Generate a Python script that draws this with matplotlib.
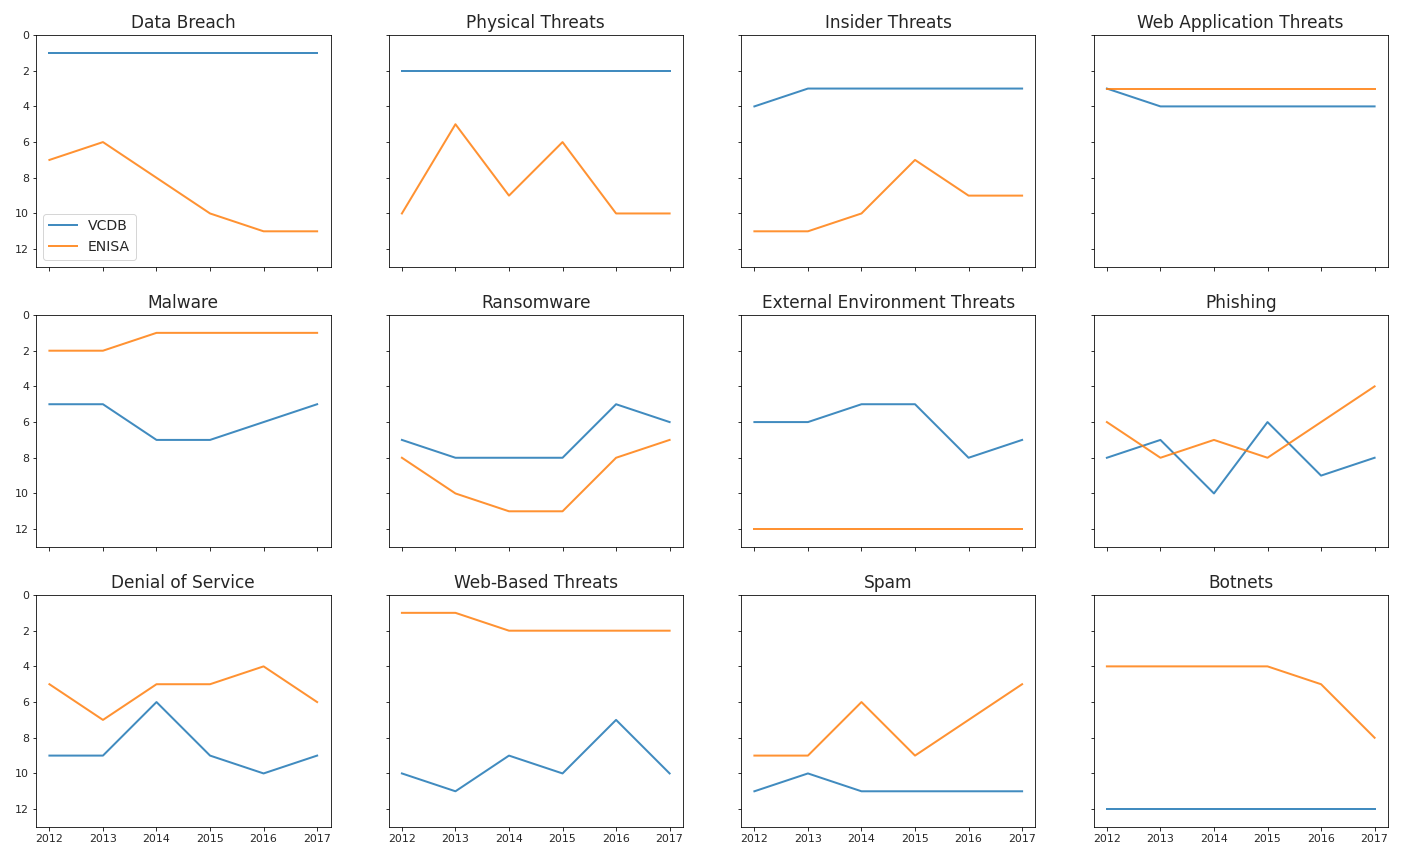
import matplotlib.pyplot as plt

years = [2012, 2013, 2014, 2015, 2016, 2017]

titles = ["Data Breach", "Physical Threats", "Insider Threats", "Web Application Threats",
          "Malware", "Ransomware", "External Environment Threats", "Phishing",
          "Denial of Service", "Web-Based Threats", "Spam", "Botnets"]

vcdb = [
    [1, 1, 1, 1, 1, 1],
    [2, 2, 2, 2, 2, 2],
    [4, 3, 3, 3, 3, 3],
    [3, 4, 4, 4, 4, 4],
    [5, 5, 7, 7, 6, 5],
    [7, 8, 8, 8, 5, 6],
    [6, 6, 5, 5, 8, 7],
    [8, 7, 10, 6, 9, 8],
    [9, 9, 6, 9, 10, 9],
    [10, 11, 9, 10, 7, 10],
    [11, 10, 11, 11, 11, 11],
    [12, 12, 12, 12, 12, 12],
]

enisa = [
    [7, 6, 8, 10, 11, 11],
    [10, 5, 9, 6, 10, 10],
    [11, 11, 10, 7, 9, 9],
    [3, 3, 3, 3, 3, 3],
    [2, 2, 1, 1, 1, 1],
    [8, 10, 11, 11, 8, 7],
    [12, 12, 12, 12, 12, 12],
    [6, 8, 7, 8, 6, 4],
    [5, 7, 5, 5, 4, 6],
    [1, 1, 2, 2, 2, 2],
    [9, 9, 6, 9, 7, 5],
    [4, 4, 4, 4, 5, 8],
]

plt.rcParams['text.color'] = '#262626'
plt.rcParams['xtick.labelcolor'] = '#262626'
plt.rcParams['ytick.labelcolor'] = '#262626'

fig, axes = plt.subplots(3, 4, figsize=(1402 / 72, 848 / 72), dpi=72, sharex=True, sharey=True)
fig.subplots_adjust(left=0.0257, right=0.990, top=0.9587, bottom=0.0248, wspace=0.197, hspace=0.207)

for i, ax in enumerate(axes.flat):
    ax.plot(years, vcdb[i], color='#1f77b4', label='VCDB', alpha=0.85, lw=2)
    ax.plot(years, enisa[i], color='#ff7f0e', label='ENISA', alpha=0.85, lw=2)
    ax.set_title(titles[i], fontsize=17, pad=7)
    ax.set_ylim(13, 0)
    ax.set_yticks([0, 2, 4, 6, 8, 10, 12])
    ax.set_xticks(years)
    ax.tick_params(labelsize=11)

axes[0, 0].legend(loc='lower left', fontsize=14)

plt.savefig('out.png', dpi=72)
